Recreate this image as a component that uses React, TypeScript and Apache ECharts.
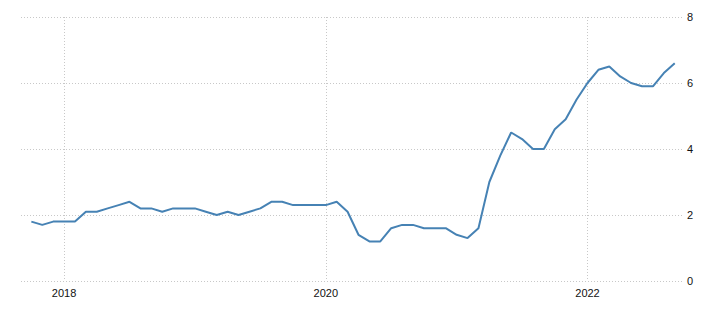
import React, { useEffect, useRef } from "react";
import * as echarts from "echarts";

// Monthly observations, Oct 2017 – Sep 2022
const months: string[] = [
  "2017-10", "2017-11", "2017-12",
  "2018-01", "2018-02", "2018-03", "2018-04", "2018-05", "2018-06", "2018-07", "2018-08", "2018-09", "2018-10", "2018-11", "2018-12",
  "2019-01", "2019-02", "2019-03", "2019-04", "2019-05", "2019-06", "2019-07", "2019-08", "2019-09", "2019-10", "2019-11", "2019-12",
  "2020-01", "2020-02", "2020-03", "2020-04", "2020-05", "2020-06", "2020-07", "2020-08", "2020-09", "2020-10", "2020-11", "2020-12",
  "2021-01", "2021-02", "2021-03", "2021-04", "2021-05", "2021-06", "2021-07", "2021-08", "2021-09", "2021-10", "2021-11", "2021-12",
  "2022-01", "2022-02", "2022-03", "2022-04", "2022-05", "2022-06", "2022-07", "2022-08", "2022-09",
];

const values: number[] = [
  1.8, 1.7, 1.8,
  1.8, 1.8, 2.1, 2.1, 2.2, 2.3, 2.4, 2.2, 2.2, 2.1, 2.2, 2.2,
  2.2, 2.1, 2.0, 2.1, 2.0, 2.1, 2.2, 2.4, 2.4, 2.3, 2.3, 2.3,
  2.3, 2.4, 2.1, 1.4, 1.2, 1.2, 1.6, 1.7, 1.7, 1.6, 1.6, 1.6,
  1.4, 1.3, 1.6, 3.0, 3.8, 4.5, 4.3, 4.0, 4.0, 4.6, 4.9, 5.5,
  6.0, 6.4, 6.5, 6.2, 6.0, 5.9, 5.9, 6.3, 6.6,
];

const baseYear = 2018;
const yearTicks: number[] = [2018, 2020, 2022];
const yTicks: number[] = [0, 2, 4, 6, 8];

function monthIndex(m: string): number {
  const [y, mo] = m.split("-").map(Number);
  return (y - baseYear) * 12 + (mo - 1);
}

export default function App() {
  const ref = useRef<HTMLDivElement>(null);

  useEffect(() => {
    if (!ref.current) return;
    const chart = echarts.init(ref.current, undefined, { renderer: "svg" });
    const tickVals = yearTicks.map((y) => (y - baseYear) * 12);
    const gridLine = { show: true, lineStyle: { color: "#c8c8c8", type: [1, 2] as any, width: 1 } };
    chart.setOption({
      animation: false,
      grid: { left: 21, right: 23, top: 17, bottom: 30, containLabel: false },
      xAxis: {
        type: "value",
        min: -3.95,
        max: 56.85,
        axisLine: { show: false },
        axisTick: { show: false, customValues: tickVals },
        axisLabel: {
          customValues: tickVals,
          formatter: (v: number) => String(baseYear + Math.round(v / 12)),
          color: "#111",
          fontSize: 11,
          fontFamily: "Liberation Sans, Arial, sans-serif",
          margin: 6,
        },
        splitLine: gridLine,
      },
      yAxis: {
        type: "value",
        position: "right",
        min: yTicks[0],
        max: yTicks[yTicks.length - 1],
        interval: 2,
        axisLine: { show: false },
        axisTick: { show: false },
        axisLabel: {
          color: "#111",
          fontSize: 11,
          fontFamily: "Liberation Sans, Arial, sans-serif",
          margin: 3,
        },
        splitLine: gridLine,
      },
      series: [
        {
          type: "line",
          data: months.map((m, i) => [monthIndex(m), values[i]]),
          showSymbol: false,
          lineStyle: { color: "#4682b4", width: 2 },
          itemStyle: { color: "#4682b4" },
        },
      ],
    });
    return () => chart.dispose();
  }, []);

  return (
    <div
      ref={ref}
      style={{ position: "fixed", left: 0, top: 0, width: 707, height: 311, background: "#fff" }}
    />
  );
}
